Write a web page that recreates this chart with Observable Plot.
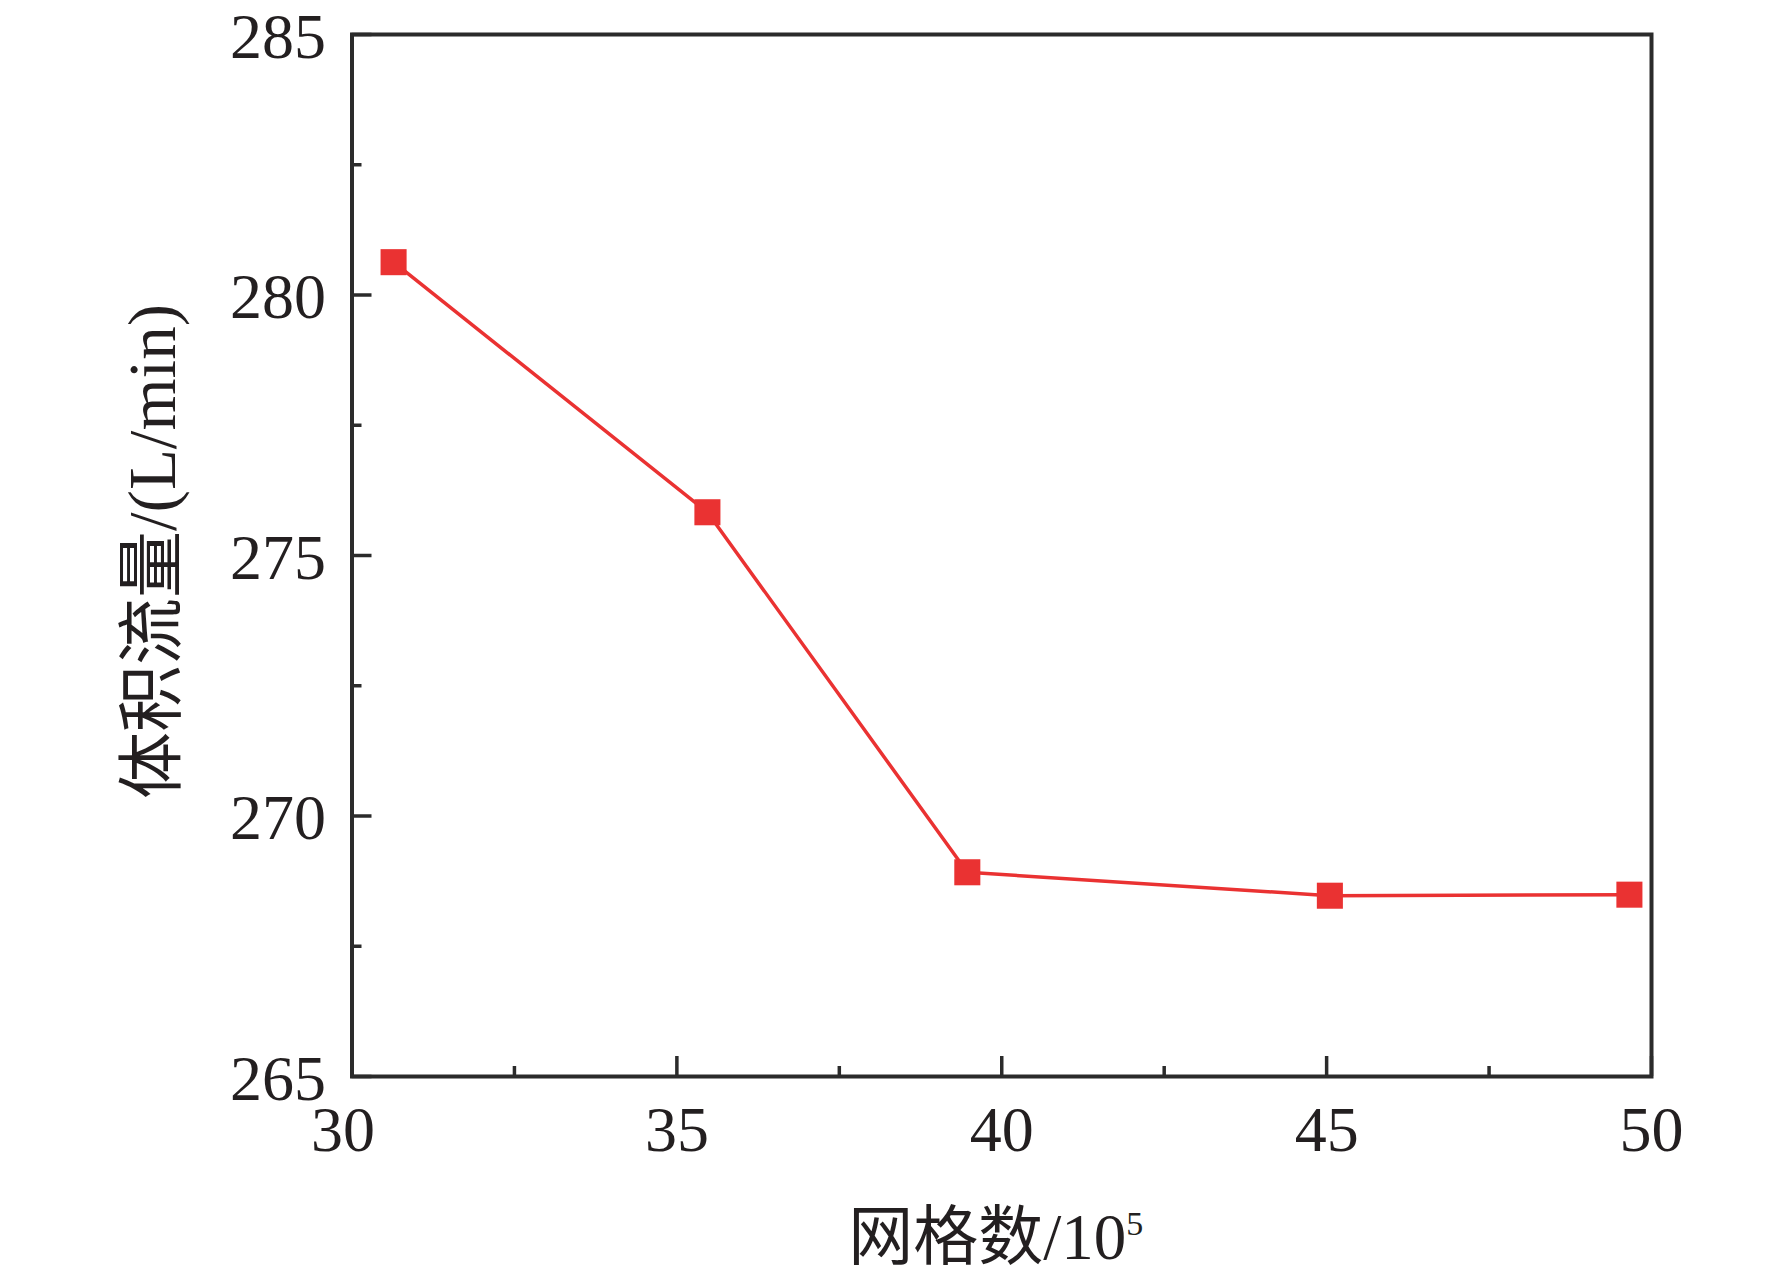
<!DOCTYPE html>
<html>
<head>
<meta charset="utf-8">
<script src="https://cdn.jsdelivr.net/npm/d3@7"></script>
<script src="https://cdn.jsdelivr.net/npm/@observablehq/plot@0.6"></script>
<style>
  html, body { margin: 0; padding: 0; background: #fff; }
  #chart svg { display: block; }
</style>
</head>
<body>
<div id="chart"></div>
<script>
// Data
const gridCount = [30.64, 35.47, 39.47, 45.05, 49.66];   // 网格数 /10^5
const flowRate  = [280.63, 275.83, 268.92, 268.47, 268.49]; // 体积流量 L/min

const xMajorTicks = [30, 35, 40, 45, 50];
const xMinorTicks = [32.5, 37.5, 42.5, 47.5];
const yMajorTicks = [265, 270, 275, 280, 285];
const yMinorTicks = [267.5, 272.5, 277.5, 282.5];

const yLabel = "体积流量/(L/min)";
const xLabelMain = "网格数/10";
const xLabelSup = "5";

const points = gridCount.map((x, i) => ({x, y: flowRate[i]}));

const W = 1772, H = 1277;
const mL = 351.5, mR = 121, mT = 34, mB = 201;
const innerW = W - mL - mR, innerH = H - mT - mB;
const majorLen = 20, minorLen = 10;
const ink = "#2b2b2b";
const red = "#ea3232";
const font = "'Liberation Serif', 'Times New Roman', 'Noto Sans CJK SC', serif";

const chart = Plot.plot({
  width: W,
  height: H,
  marginLeft: mL,
  marginRight: mR,
  marginTop: mT,
  marginBottom: mB,
  style: {fontFamily: font, background: "#fff", color: "#231f20"},
  x: {domain: [30, 50]},
  y: {domain: [265, 285]},
  marks: [
    Plot.axisX(xMajorTicks.slice(0, 1), {tickSize: 0, tickPadding: 29, dx: -9, fontSize: 64, label: null, fill: "#231f20", tickFormat: d => String(d)}),
    Plot.axisX(xMajorTicks.slice(1), {tickSize: 0, tickPadding: 29, fontSize: 64, label: null, fill: "#231f20", tickFormat: d => String(d)}),
    Plot.axisY(yMajorTicks, {tickSize: 0, tickPadding: 26, dy: 3, fontSize: 64, label: null, fill: "#231f20", tickFormat: d => String(d)}),
    // inward ticks
    Plot.tickX(xMajorTicks, {x: d => d, insetTop: innerH - majorLen, stroke: ink, strokeWidth: 3.5}),
    Plot.tickX(xMinorTicks, {x: d => d, insetTop: innerH - minorLen, stroke: ink, strokeWidth: 3.5}),
    Plot.tickY(yMajorTicks, {y: d => d, insetRight: innerW - majorLen, stroke: ink, strokeWidth: 3.5}),
    Plot.tickY(yMinorTicks, {y: d => d, insetRight: innerW - minorLen, stroke: ink, strokeWidth: 3.5}),
    Plot.frame({stroke: ink, strokeWidth: 4}),
    Plot.line(points, {x: "x", y: "y", stroke: red, strokeWidth: 3.5}),
    Plot.dot(points, {x: "x", y: "y", symbol: "square", r: 14.7, fill: red, stroke: "none"}),
    Plot.text([yLabel], {text: d => d, frameAnchor: "left", rotate: -90, dx: -177, dy: -4, lineAnchor: "bottom", textAnchor: "middle", fontSize: 67, fill: "#231f20"}),
    Plot.text([xLabelMain], {text: d => d, frameAnchor: "bottom", dy: 182, dx: -6, lineAnchor: "bottom", textAnchor: "middle", fontSize: 65, fill: "#231f20", className: "xlabel"})
  ]
});

// add superscript to the x label
const xl = chart.querySelector(".xlabel text");
if (xl) {
  const ts = document.createElementNS("http://www.w3.org/2000/svg", "tspan");
  ts.setAttribute("dy", "-24");
  ts.setAttribute("font-size", "34");
  ts.textContent = xLabelSup;
  xl.appendChild(ts);
}

document.getElementById("chart").appendChild(chart);
</script>
</body>
</html>
